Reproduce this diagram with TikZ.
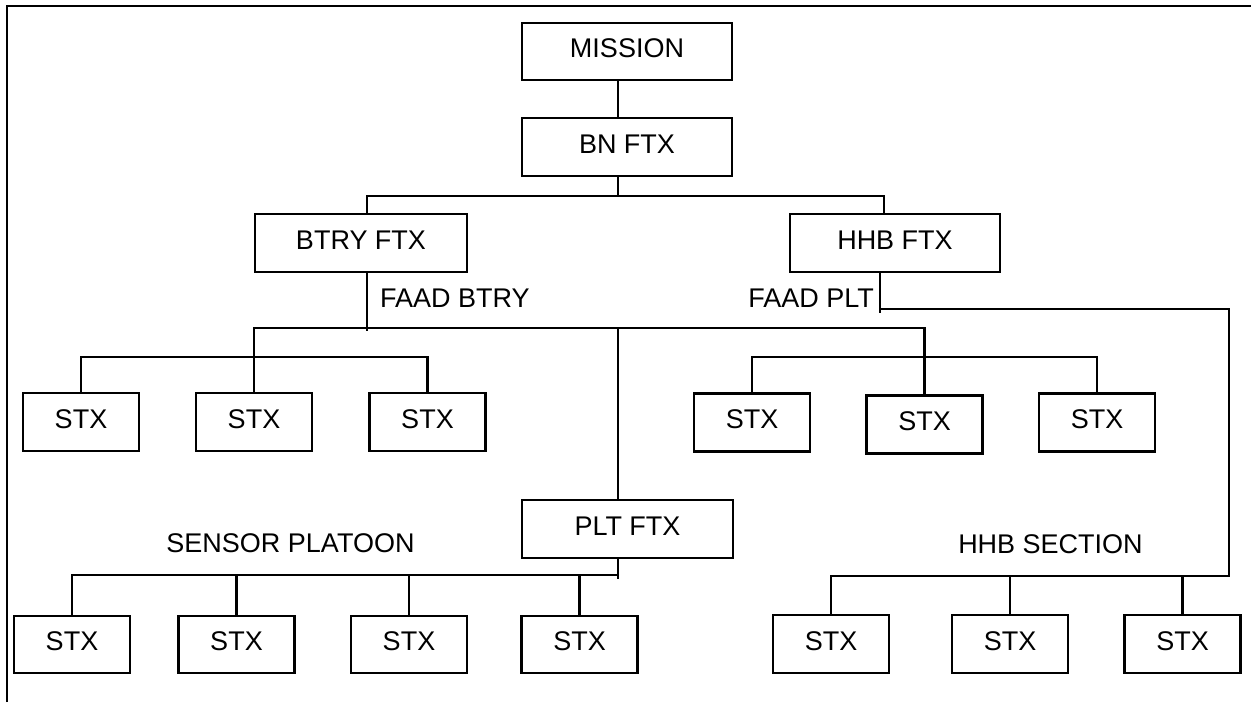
\documentclass[tikz,border=0pt]{standalone}
\usepackage{fontspec}
\setmainfont{Liberation Sans}
\newcommand{\chartfont}{\fontsize{27}{32}\selectfont}

\begin{document}
\begin{tikzpicture}[x=1pt, y=-1pt, line width=2.2pt,
    box/.style={draw, minimum width=210pt, minimum height=57pt, inner sep=0pt,
                text height=19pt, text depth=7pt, font=\chartfont},
    stx/.style={box, minimum width=116pt},
    tag/.style={inner sep=0pt, font=\chartfont}]
    \useasboundingbox (0,0) rectangle (1251,702);
    \draw (7,702) -- (7,6) -- (1251,6);

    % upper levels
    \node[box] (mission) at (627,51.5) {MISSION};
    \node[box, minimum height=58pt] (bn) at (627,147) {BN FTX};
    \node[box, minimum width=212pt, minimum height=58pt] (btry) at (361,243) {BTRY FTX};
    \node[box, minimum height=58pt] (hhb) at (895,243) {HHB FTX};
    \node[box, minimum width=211pt, minimum height=58pt] (plt) at (627.5,529) {PLT FTX};

    % sub-exercises
    \foreach \n/\x in {a1/81, a2/254, a3/427.5}
        \node[stx, minimum height=58pt] (\n) at (\x,422) {STX};
    \foreach \n/\x/\y in {b1/752/422.5, b2/924.5/424.5, b3/1097/422.5}
        \node[stx, minimum height=58pt] (\n) at (\x,\y) {STX};
    \foreach \n/\x in {c1/72, c2/236.5, c3/409, c4/579.5}
        \node[stx] (\n) at (\x,644.5) {STX};
    \foreach \n/\x in {d1/831, d2/1010, d3/1182.5}
        \node[stx, minimum height=58pt] (\n) at (\x,644) {STX};

    \node[tag, anchor=west] (faadbtry) at (379,298) {FAAD BTRY};
    \node[tag, anchor=east] (faadplt) at (875,298) {FAAD PLT};
    \node[tag] (sensor) at (290.5,543.5) {SENSOR PLATOON};
    \node[tag] (section) at (1050.5,544) {HHB SECTION};

    % junction rows
    \coordinate (bnjoin) at (618,196);
    \coordinate (row2) at (618,328);
    \coordinate (rowa) at (0,357);
    \coordinate (rowc) at (0,575);
    \coordinate (hhbdrop) at (880,309);
    \coordinate (rowd) at (1229,576);

    \draw ([xshift=-9pt]mission.south) -- ([xshift=-9pt]bn.north);
    \draw ([xshift=-9pt]bn.south) -- (bnjoin);
    \draw ([xshift=6pt]btry.north) |- (bnjoin) -| ([xshift=-11pt]hhb.north);

    \draw ([xshift=6pt]btry.south) -- ++(0,58);
    \draw (a2.north) |- (b2.north |- row2) -- (b2.north);
    \draw (row2) -- (plt.north -| row2);
    \draw (a1.north) |- (a3.north |- rowa) -- (a3.north);
    \draw (b1.north) |- (b3.north |- rowa) -- (b3.north);

    \draw (plt.south -| row2) -- ++(0,20);
    \draw (c1.north) |- (row2 |- rowc);
    \foreach \n in {c2,c3,c4}
        \draw (\n.north) -- (\n.north |- rowc);

    \draw (hhb.south -| hhbdrop) -- ++(0,40);
    \draw (hhbdrop) -| (rowd) -| (d1.north);
    \foreach \n in {d2,d3}
        \draw (\n.north) -- (\n.north |- rowd);
\end{tikzpicture}
\end{document}
